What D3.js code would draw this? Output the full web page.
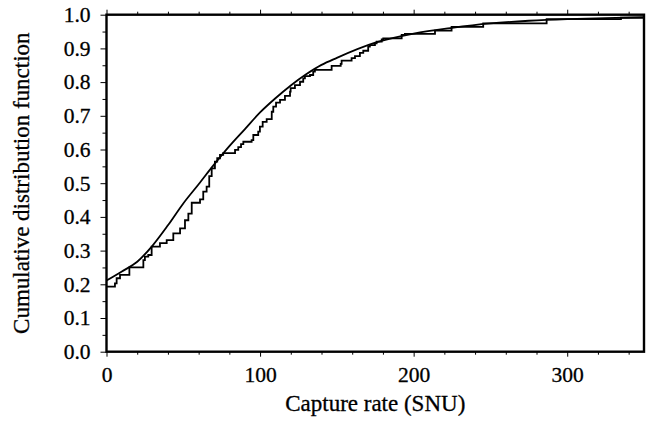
<!DOCTYPE html>
<html>
<head>
<meta charset="utf-8">
<script src="https://cdn.jsdelivr.net/npm/d3@7"></script>
<style>
  body { margin: 0; background: #fff; }
  svg { display: block; }
</style>
</head>
<body>
<div id="chart"></div>
<script>
const stepX = [0, 5.5, 6.6, 8.8, 14.9, 24, 25, 27.2, 29.4, 34.8, 39.2, 43.5, 47.9, 51.1, 53.3, 55.5,
  60.9, 63, 65.2, 66.9, 68.5, 70.6, 72.1, 73.9, 76, 83.7, 85.8, 87.6, 89.1, 94.5, 95.6, 98.8, 99.9,
  101.7, 104.3, 107.6, 108.6, 110.4, 113, 116.2, 119.5, 119.9, 122.7, 126, 128.1, 129.2, 132.5,
  134.6, 135.7, 146.6, 152.5, 153.1, 159.6, 161.8, 165, 167.2, 170.4, 171.5, 174.8, 175.9, 179.2,
  180.2, 192.2, 194.3, 213.9, 224.7, 245.3, 286.6, 335, 350];
const stepY = [0.193, 0.203, 0.218, 0.228, 0.25, 0.272, 0.282, 0.287, 0.312, 0.322, 0.331, 0.351,
  0.366, 0.39, 0.41, 0.442, 0.452, 0.475, 0.49, 0.521, 0.544, 0.564, 0.574, 0.584, 0.589, 0.599,
  0.607, 0.616, 0.623, 0.628, 0.643, 0.653, 0.668, 0.682, 0.69, 0.712, 0.727, 0.739, 0.747, 0.759,
  0.772, 0.782, 0.791, 0.801, 0.811, 0.818, 0.821, 0.831, 0.836, 0.848, 0.854, 0.864, 0.871, 0.877,
  0.887, 0.893, 0.905, 0.91, 0.915, 0.92, 0.927, 0.93, 0.94, 0.943, 0.953, 0.964, 0.974, 0.987,
  0.991, 0.991];

// fitted smooth CDF
const fitX = [0, 10, 20, 30, 40, 50, 60, 70, 80, 90, 100, 110, 120, 130, 140, 150, 175, 200, 225,
  250, 275, 300, 325, 350];
const fitY = [0.211, 0.238, 0.267, 0.315, 0.375, 0.44, 0.497, 0.555, 0.61, 0.66, 0.71, 0.752, 0.79,
  0.823, 0.851, 0.872, 0.917, 0.944, 0.961, 0.974, 0.982, 0.987, 0.990, 0.993];

const xTicks = [0, 100, 200, 300];
const yTicks = [0, 0.1, 0.2, 0.3, 0.4, 0.5, 0.6, 0.7, 0.8, 0.9, 1.0];

const width = 646, height = 426,
  margin = {top: 14.7, right: 2, bottom: 74.3, left: 106.5};
const font = "'Liberation Serif', 'Times New Roman', serif";

const x = d3.scaleLinear().domain([0, 350]).range([margin.left, width - margin.right]);
const y = d3.scaleLinear().domain([0, 1]).range([height - margin.bottom, margin.top]);

const svg = d3.select("#chart").append("svg")
  .attr("width", width).attr("height", height);

const minorX = d3.range(0, 351, 20).filter(v => !xTicks.includes(v));
const minorY = d3.range(0.05, 1, 0.1);

// bottom axis
const gB = svg.append("g").attr("transform", `translate(0,${y(0)})`);
gB.call(d3.axisBottom(x).tickValues(xTicks).tickSize(5).tickPadding(10).tickFormat(d3.format("d")));
gB.append("g").call(d3.axisBottom(x).tickValues(minorX).tickSize(3).tickFormat(""));

// top axis
const gT = svg.append("g").attr("transform", `translate(0,${y(1)})`);
gT.call(d3.axisTop(x).tickValues(xTicks).tickSize(5).tickFormat(""));
gT.append("g").call(d3.axisTop(x).tickValues(minorX).tickSize(3).tickFormat(""));

// left axis
const gL = svg.append("g").attr("transform", `translate(${x(0)},0)`);
gL.call(d3.axisLeft(y).tickValues(yTicks).tickSize(6).tickPadding(10).tickFormat(d3.format(".1f")));
gL.append("g").call(d3.axisLeft(y).tickValues(minorY).tickSize(4).tickFormat(""));

svg.selectAll(".domain").remove();
svg.selectAll(".tick line").attr("stroke", "#000").attr("stroke-width", 1);
svg.selectAll(".tick text")
  .attr("font-family", font).attr("font-size", 21.5).attr("fill", "#000")
  .attr("stroke", "#000").attr("stroke-width", 0.3);

// frame
svg.append("rect")
  .attr("x", x(0)).attr("y", y(1))
  .attr("width", x(350) - x(0)).attr("height", y(0) - y(1))
  .attr("fill", "none").attr("stroke", "#000").attr("stroke-width", 2.4);

svg.append("clipPath").attr("id", "plot")
  .append("rect").attr("x", x(0)).attr("y", y(1))
  .attr("width", x(350) - x(0)).attr("height", y(0) - y(1));

const stepData = stepX.map((v, i) => [v, stepY[i]]);
const fitData = fitX.map((v, i) => [v, fitY[i]]);

svg.append("path")
  .datum(stepData)
  .attr("clip-path", "url(#plot)")
  .attr("fill", "none").attr("stroke", "#000").attr("stroke-width", 1.8)
  .attr("d", d3.line().x(d => x(d[0])).y(d => y(d[1])).curve(d3.curveStepAfter));

svg.append("path")
  .datum(fitData)
  .attr("clip-path", "url(#plot)")
  .attr("fill", "none").attr("stroke", "#000").attr("stroke-width", 1.8)
  .attr("d", d3.line().x(d => x(d[0])).y(d => y(d[1])).curve(d3.curveMonotoneX));

// axis titles
svg.append("text")
  .attr("x", (x(0) + x(350)) / 2).attr("y", 411)
  .attr("text-anchor", "middle")
  .attr("font-family", font).attr("font-size", 23)
  .attr("stroke", "#000").attr("stroke-width", 0.3)
  .text("Capture rate (SNU)");

svg.append("text")
  .attr("transform", `translate(29,${(y(0) + y(1)) / 2}) rotate(-90)`)
  .attr("text-anchor", "middle")
  .attr("font-family", font).attr("font-size", 23)
  .attr("stroke", "#000").attr("stroke-width", 0.3)
  .text("Cumulative distribution function");
</script>
</body>
</html>
